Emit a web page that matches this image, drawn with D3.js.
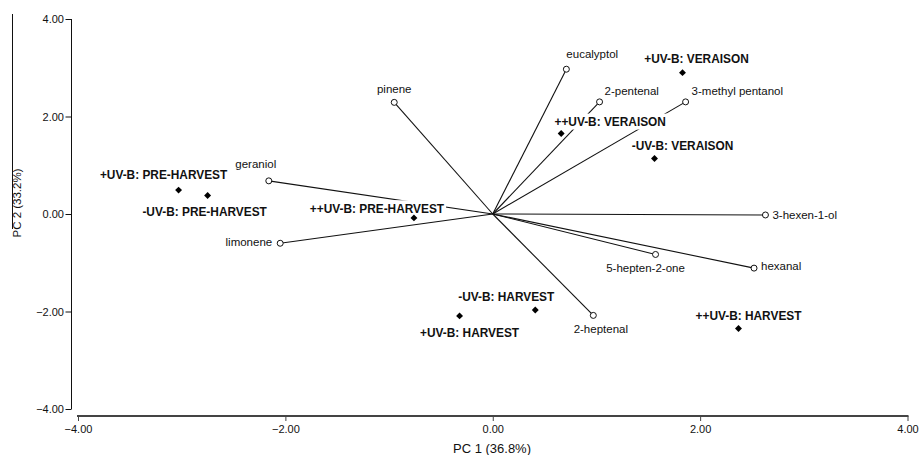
<!DOCTYPE html>
<html>
<head>
<meta charset="utf-8">
<script src="https://cdn.jsdelivr.net/npm/d3@7"></script>
<style>
  html, body { margin: 0; padding: 0; background: #fff; }
  svg { display: block; }
  text { font-family: "Liberation Sans", Arial, sans-serif; fill: #111; }
</style>
</head>
<body>
<svg id="chart" width="919" height="455"></svg>
<script>
// ---- data ----
const variables = ["pinene", "geraniol", "limonene", "eucalyptol", "2-pentenal",
  "3-methyl pentanol", "3-hexen-1-ol", "5-hepten-2-one", "hexanal", "2-heptenal"];
const loadingPC1 = [-0.95, -2.16, -2.05, 0.71, 1.03, 1.86, 2.63, 1.57, 2.52, 0.97];
const loadingPC2 = [2.29, 0.68, -0.60, 2.97, 2.30, 2.30, -0.02, -0.83, -1.11, -2.08];

const treatments = ["+UV-B: PRE-HARVEST", "-UV-B: PRE-HARVEST", "++UV-B: PRE-HARVEST",
  "+UV-B: VERAISON", "++UV-B: VERAISON", "-UV-B: VERAISON",
  "-UV-B: HARVEST", "+UV-B: HARVEST", "++UV-B: HARVEST"];
const scorePC1 = [-3.03, -2.75, -0.76, 1.83, 0.66, 1.56, 0.41, -0.32, 2.37];
const scorePC2 = [0.49, 0.38, -0.08, 2.90, 1.65, 1.14, -1.97, -2.09, -2.35];

const xTicks = [-4, -2, 0, 2, 4];
const yTicks = [-4, -2, 0, 2, 4];
const xTitle = "PC 1 (36.8%)";
const yTitle = "PC 2 (33.2%)";

// ---- layout (label placement, px offsets from the marker) ----
const varLabelPlace = [
  {a: "middle", dx: 0, dy: -9},
  {a: "middle", dx: -13, dy: -13},
  {a: "end", dx: -8, dy: 3},
  {a: "start", dx: 0, dy: -11},
  {a: "start", dx: 5, dy: -7},
  {a: "start", dx: 6, dy: -7},
  {a: "start", dx: 7, dy: 4},
  {a: "middle", dx: -10, dy: 18},
  {a: "start", dx: 7, dy: 1.5},
  {a: "middle", dx: 7.5, dy: 17.5}
];
const ptLabelPlace = [
  {dx: -15, dy: -11}, {dx: -3, dy: 21}, {dx: -37, dy: -5.4},
  {dx: 14, dy: -9.4}, {dx: 49, dy: -7.7}, {dx: 28, dy: -8},
  {dx: -29, dy: -9.3}, {dx: 10, dy: 20.7}, {dx: 10, dy: -9}
];

const svg = d3.select("#chart");
const x = d3.scaleLinear().domain([-4, 4]).range([78, 907.5]);
const y = d3.scaleLinear().domain([-4, 4]).range([409, 19]);
const yAxisX = 71, xAxisY = 416;

// stray rule at far left (present in the reference image)
svg.append("line").attr("x1", 12.5).attr("x2", 12.5).attr("y1", 14).attr("y2", 229)
  .attr("stroke", "#111").attr("stroke-width", 1);

// ---- axes ----
const yAxis = svg.append("g").attr("transform", `translate(${yAxisX},0)`)
  .call(d3.axisLeft(y).tickValues(yTicks).tickFormat(d3.format(".2f")).tickSizeOuter(0).tickSize(6));
yAxis.select(".domain").attr("stroke", "#111").attr("d", `M0.5,${y(4)}V${y(-4)}`);
yAxis.selectAll(".tick line").attr("stroke", "#111").attr("transform", "translate(0.5,0)");
yAxis.selectAll(".tick text").attr("font-size", 11).attr("fill", "#222")
  .attr("font-family", "Liberation Sans, Arial, sans-serif").attr("x", -7);

const xAxis = svg.append("g").attr("transform", `translate(0,${xAxisY})`)
  .call(d3.axisBottom(x).tickValues(xTicks).tickFormat(d3.format(".2f")).tickSizeOuter(0).tickSize(5));
xAxis.select(".domain").attr("stroke", "#444").attr("stroke-width", 2)
  .attr("d", `M${x(-4) - 1},0H${x(4) + 1}`);
xAxis.selectAll(".tick line").attr("stroke", "#444");
xAxis.selectAll(".tick text").attr("font-size", 11).attr("fill", "#222")
  .attr("font-family", "Liberation Sans, Arial, sans-serif").attr("y", 9);

svg.append("text").attr("x", 492).attr("y", 453).attr("text-anchor", "middle")
  .attr("font-size", 13).attr("fill", "#222").text(xTitle);
svg.append("text").attr("transform", "translate(21,203) rotate(-90)")
  .attr("text-anchor", "middle").attr("font-size", 11.5).attr("fill", "#222").text(yTitle);

// ---- loading vectors ----
const vec = svg.append("g");
variables.forEach((v, i) => {
  vec.append("line")
    .attr("x1", x(0)).attr("y1", y(0))
    .attr("x2", x(loadingPC1[i])).attr("y2", y(loadingPC2[i]))
    .attr("stroke", "#111").attr("stroke-width", 1.1);
});

// ---- point labels with white boxes (they interrupt the lines) ----
const labG = svg.append("g");
treatments.forEach((t, i) => {
  const px = x(scorePC1[i]) + ptLabelPlace[i].dx;
  const py = y(scorePC2[i]) + ptLabelPlace[i].dy;
  const g = labG.append("g").attr("transform", `translate(${px},${py}) scale(0.88,1)`);
  const txt = g.append("text").attr("x", 0).attr("y", 0).attr("text-anchor", "middle")
    .attr("font-size", 13.5).attr("font-weight", "bold").attr("fill", "#111").text(t);
  const bb = txt.node().getBBox();
  g.insert("rect", "text").attr("x", bb.x - 2).attr("y", bb.y + 0.5)
    .attr("width", bb.width + 4).attr("height", bb.height).attr("fill", "#fff");
});

// ---- variable labels ----
variables.forEach((v, i) => {
  svg.append("text")
    .attr("x", x(loadingPC1[i]) + varLabelPlace[i].dx)
    .attr("y", y(loadingPC2[i]) + varLabelPlace[i].dy)
    .attr("text-anchor", varLabelPlace[i].a)
    .attr("font-size", 11.5).attr("fill", "#222").text(v);
});

// ---- markers ----
svg.append("g").selectAll("circle").data(variables).join("circle")
  .attr("cx", (d, i) => x(loadingPC1[i])).attr("cy", (d, i) => y(loadingPC2[i]))
  .attr("r", 3).attr("fill", "#fff").attr("stroke", "#111").attr("stroke-width", 1);

svg.append("g").selectAll("path").data(treatments).join("path")
  .attr("d", d3.symbol(d3.symbolSquare, 24))
  .attr("transform", (d, i) => `translate(${x(scorePC1[i])},${y(scorePC2[i])}) rotate(45)`)
  .attr("fill", "#000");
</script>
</body>
</html>
